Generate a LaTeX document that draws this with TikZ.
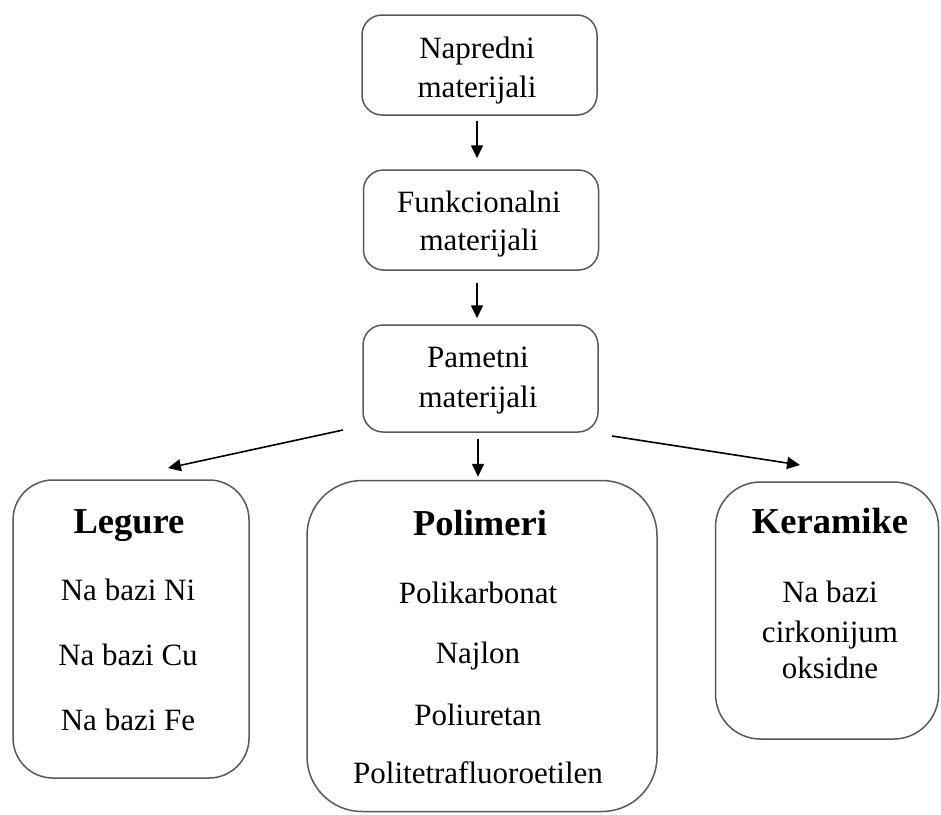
\documentclass[tikz,border=0pt]{standalone}
\usepackage{fontspec}
\setmainfont{Liberation Serif}
\usepackage{tikz}
\usetikzlibrary{arrows.meta}
\definecolor{edgegray}{HTML}{585858}

\begin{document}
\begin{tikzpicture}[x=1pt,y=-1pt,>={Triangle[length=13pt,width=12pt]},
  box/.style={draw=edgegray,line width=1.5pt,inner sep=0pt},
  txt/.style={anchor=base,inner sep=0pt,font=\fontsize{31}{36}\selectfont},
  hdr/.style={anchor=base,inner sep=0pt,font=\fontsize{36.5}{40}\selectfont\bfseries},
  arr/.style={->,line width=1.6pt}]
  \useasboundingbox (0,0) rectangle (941,814);
  % upper chain
  \node[box,rounded corners=20pt,minimum width=235pt,minimum height=100pt] (nap) at (479.5,65) {};
  \node[box,rounded corners=20pt,minimum width=235pt,minimum height=100pt] (fun) at (481,220) {};
  \node[box,rounded corners=20pt,minimum width=235pt,minimum height=107pt] (pam) at (480.5,378.5) {};
  \node[txt] (napA) at (477,58) {Napredni};
  \node[txt] (napB) at (477,97) {materijali};
  \node[txt] (funA) at (479,212) {Funkcionalni};
  \node[txt] (funB) at (479,250) {materijali};
  \node[txt] (pamA) at (478,367) {Pametni};
  \node[txt] (pamB) at (478,407) {materijali};
  % lower boxes
  \node[box,rounded corners=40pt,minimum width=236pt,minimum height=298pt] (leg) at (131,629) {};
  \node[box,rounded corners=55pt,minimum width=350pt,minimum height=331pt] (pol) at (482,646) {};
  \node[box,rounded corners=45pt,minimum width=223pt,minimum height=257pt] (ker) at (827,610.5) {};
  \node[hdr] (legT) at (129,533) {Legure};
  \foreach \t/\y in {Ni/600,Cu/665,Fe/730}
    \node[txt] (leg\t) at (128,\y) {Na bazi \t};
  \node[hdr] (polT) at (480,535) {Polimeri};
  \foreach \t/\y [count=\i] in {Polikarbonat/603,Najlon/663,Poliuretan/725,Politetrafluoroetilen/783}
    \node[txt] (pol\i) at (478,\y) {\t};
  \node[hdr] (kerT) at (830,533) {Keramike};
  \foreach \t/\y [count=\i] in {Na bazi/602,cirkonijum/642,oksidne/678}
    \node[txt] (ker\i) at (830,\y) {\t};
  % connectors
  \coordinate (lfrom) at (343,430);
  \coordinate (lto) at (168,468);
  \coordinate (rfrom) at (612,436);
  \coordinate (rto) at (800,465);
  \draw[arr,shorten <=5pt,shorten >=11pt] (nap.south -| 477,0) -- (fun.north -| 477,0);
  \draw[arr,shorten <=12pt,shorten >=6pt] (fun.south -| 477,0) -- (pam.north -| 477,0);
  \draw[arr,shorten <=6pt,shorten >=3pt] (pam.south -| 478,0) -- (pol.north -| 478,0);
  \draw[arr] (lfrom) -- (lto);
  \draw[arr] (rfrom) -- (rto);
\end{tikzpicture}
\end{document}
